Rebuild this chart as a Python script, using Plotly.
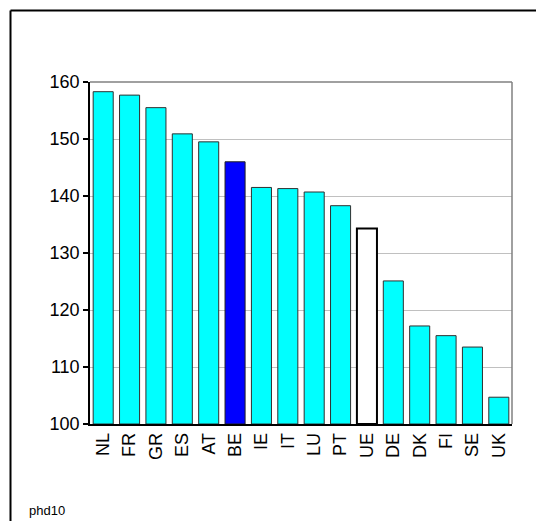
import plotly.graph_objects as go

# values
countries = ["NL", "FR", "GR", "ES", "AT", "BE", "IE", "IT",
             "LU", "PT", "UE", "DE", "DK", "FI", "SE", "UK"]
values = [158.3, 157.7, 155.5, 150.9, 149.5, 146.0, 141.5, 141.3,
          140.7, 138.3, 134.3, 125.1, 117.2, 115.5, 113.5, 104.7]

y_ticks = [100, 110, 120, 130, 140, 150, 160]

FONT = "Liberation Sans, Arial, sans-serif"

fill = []
outline = []
widths = []
for c in countries:
    if c == "BE":
        fill.append("#0000FF")
        outline.append("#202020")
        widths.append(1)
    elif c == "UE":
        fill.append("#FFFFFF")
        outline.append("#000000")
        widths.append(2)
    else:
        fill.append("#00FFFF")
        outline.append("#303030")
        widths.append(1)

fig = go.Figure(go.Bar(
    x=countries,
    y=[v - y_ticks[0] for v in values],
    base=y_ticks[0],
    marker=dict(color=fill, line=dict(color=outline, width=widths)),
    hovertemplate="%{x}: %{customdata}<extra></extra>",
    customdata=values,
))

# the html page puts the plot 8px in from the top-left corner (body margin)
OFF = 8
# plot area in window px: x 90..512, y 82..424
W, H = 544 - OFF, 521 - OFF
L, T = 90 - OFF, 82 - OFF
R, B = W - (512 - OFF), H - (424 - OFF)
pw, ph = W - L - R, H - T - B

def px_x(px):
    return (px - OFF - L) / pw

def px_y(py):
    return (H - B - (py - OFF)) / ph

fig.update_layout(
    width=W, height=H,
    margin=dict(l=L, r=R, t=T, b=B),
    paper_bgcolor="white",
    plot_bgcolor="white",
    showlegend=False,
    bargap=0.24,
    font=dict(family=FONT, size=18, color="black"),
    xaxis=dict(
        tickangle=-90,
        showline=True, linecolor="black", linewidth=1.5,
        ticks="", showgrid=False,
        tickfont=dict(size=18),
    ),
    yaxis=dict(
        range=[100, 160],
        tickvals=y_ticks,
        showline=True, linecolor="black", linewidth=1.5,
        ticks="outside", ticklen=5, tickwidth=1.5, tickcolor="black",
        showgrid=True, gridcolor="#c0c0c0", gridwidth=1,
        zeroline=False,
        tickfont=dict(size=18),
    ),
    shapes=[
        # gray top and right plot border
        dict(type="line", xref="paper", yref="paper", x0=0, x1=1, y0=1, y1=1,
             line=dict(color="#808080", width=1.5), layer="above"),
        dict(type="line", xref="paper", yref="paper", x0=1, x1=1, y0=0, y1=1,
             line=dict(color="#808080", width=1.5), layer="above"),
        # outer frame (left and top edges visible)
        dict(type="line", xref="paper", yref="paper",
             x0=px_x(10.5), x1=px_x(560), y0=px_y(10.5), y1=px_y(10.5),
             line=dict(color="black", width=2)),
        dict(type="line", xref="paper", yref="paper",
             x0=px_x(10.5), x1=px_x(10.5), y0=px_y(10.5), y1=px_y(540),
             line=dict(color="black", width=2)),
    ],
    annotations=[
        dict(text="phd10", xref="paper", yref="paper",
             x=px_x(27), y=px_y(510), xanchor="left", yanchor="middle",
             showarrow=False, font=dict(size=13, color="black")),
    ],
)

fig.write_html("out.html")
